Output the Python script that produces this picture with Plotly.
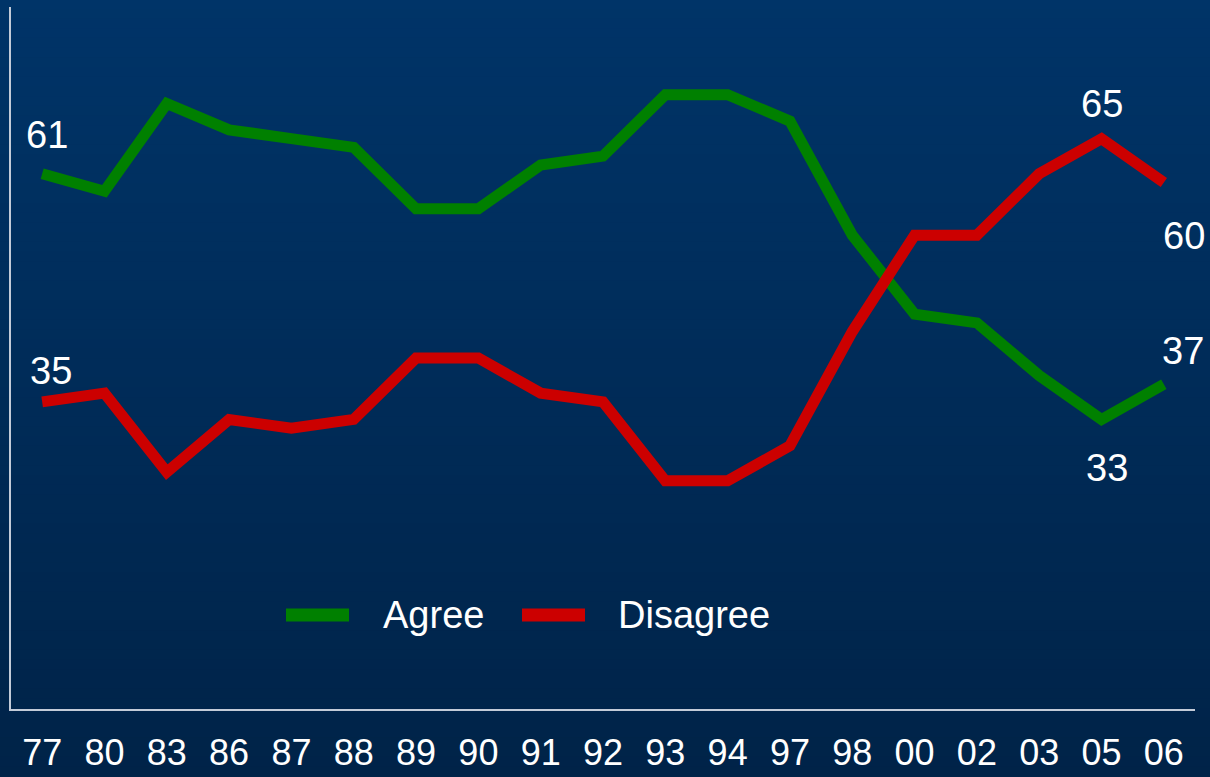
import plotly.graph_objects as go

# survey years (two-digit labels) and shares in percent
years = ['77', '80', '83', '86', '87', '88', '89', '90', '91', '92',
         '93', '94', '97', '98', '00', '02', '03', '05', '06']
agree = [61, 59, 69, 66, 65, 64, 57, 57, 62, 63, 70, 70, 67, 54, 45, 44, 38, 33, 37]
disagree = [35, 36, 27, 33, 32, 33, 40, 40, 36, 35, 26, 26, 30, 43, 54, 54, 61, 65, 60]
series_names = ['Agree', 'Disagree']
series_colors = ['#008000', '#cc0000']

# which points carry a value label: (series index, year index, xshift, yshift)
labelled = [(0, 0, 5, 39), (1, 0, 9, 31), (1, 17, 0, 35),
            (1, 18, 20, -53), (0, 18, 19, 33), (0, 17, 5, -49)]

FONT = 'Liberation Sans, Arial, sans-serif'
W, H = 1210, 777
ML, MR, MT, MB = 11, 15, 7, 68
plot_h = H - MT - MB
plot_w = W - ML - MR

fig = go.Figure()
values = [agree, disagree]
xs = list(range(len(years)))
for name, vals, col in zip(series_names, values, series_colors):
    fig.add_trace(go.Scatter(x=xs, y=vals, mode='lines', name=name,
                             line=dict(color=col, width=11), showlegend=False,
                             text=years, hovertemplate='%{text}: %{y}<extra>' + name + '</extra>'))

annotations = []
for si, yi, dx, dy in labelled:
    annotations.append(dict(x=yi, y=values[si][yi], xref='x', yref='y',
                            text=str(values[si][yi]), showarrow=False,
                            xshift=dx, yshift=dy,
                            font=dict(family=FONT, size=38, color='white')))

# background: vertical gradient built from thin bands
shapes = []
n_bands = 80
top_rgb, bot_rgb = (0, 52, 104), (0, 35, 72)
for i in range(n_bands):
    y0_px = H * i / n_bands - 1
    y1_px = H * (i + 1) / n_bands + 1
    t = (i + 0.5) / n_bands
    c = tuple(round(a + (b - a) * t) for a, b in zip(top_rgb, bot_rgb))
    shapes.append(dict(type='rect', xref='paper', yref='paper', layer='below',
                       x0=-ML / plot_w - 0.01, x1=1 + MR / plot_w + 0.01,
                       y0=1 - (y1_px - MT) / plot_h, y1=1 - (y0_px - MT) / plot_h,
                       line=dict(width=0), fillcolor='rgb(%d,%d,%d)' % c))

# hand-made legend
legend_items = [(0, 286, 381), (1, 522, 616)]
leg_y = 1 - (615 - MT) / plot_h
for si, x_line, x_text in legend_items:
    shapes.append(dict(type='line', xref='paper', yref='paper',
                       x0=(x_line - ML) / plot_w, x1=(x_line + 63 - ML) / plot_w,
                       y0=leg_y, y1=leg_y,
                       line=dict(color=series_colors[si], width=13)))
    annotations.append(dict(x=(x_text - ML) / plot_w, y=leg_y, xref='paper', yref='paper',
                            text=series_names[si], showarrow=False,
                            xanchor='left', yanchor='middle',
                            font=dict(family=FONT, size=38, color='white')))

fig.update_layout(
    width=W, height=H,
    margin=dict(l=ML, r=MR, t=MT, b=MB, pad=0),
    paper_bgcolor='#002a55',
    plot_bgcolor='rgba(0,0,0,0)',
    font=dict(family=FONT, color='white'),
    shapes=shapes,
    annotations=annotations,
    xaxis=dict(range=[-0.5, len(years) - 0.5], automargin=False,
               tickmode='array', tickvals=xs, ticktext=years,
               showgrid=False, zeroline=False,
               showline=True, linecolor='#c3cbd8', linewidth=2,
               ticks='outside', ticklen=11, tickcolor='rgba(0,0,0,0)',
               tickfont=dict(family=FONT, size=36, color='white')),
    yaxis=dict(range=[0, 80], showgrid=False, zeroline=False, automargin=False,
               showticklabels=False, ticks='',
               showline=True, linecolor='#c3cbd8', linewidth=2),
)

# the page's default body margin would push the fixed-size figure off the window
fig.write_html('out.html', config={'displayModeBar': False},
               post_script="document.body.style.margin='0';"
                           "document.body.style.overflow='hidden';")
